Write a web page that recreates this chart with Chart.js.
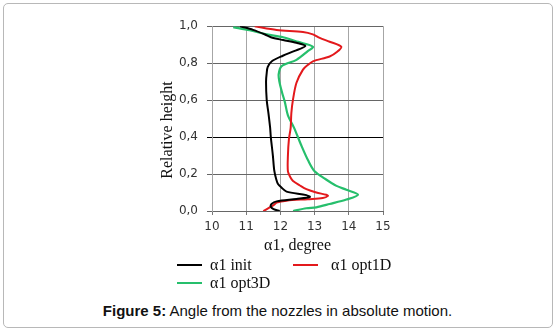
<!DOCTYPE html>
<html>
<head>
<meta charset="utf-8">
<script src="https://cdn.jsdelivr.net/npm/chart.js@4"></script>
<style>
  body { margin: 0; background: #fff; width: 555px; height: 332px; position: relative; overflow: hidden; }
  #frame { position: absolute; left: 3px; top: 3px; width: 548px; height: 323px; border: 1px solid #b8b8b8; border-radius: 5px; }
  #wrap { position: absolute; left: 150px; top: 10px; width: 250px; height: 245px; }
  .leg { position: absolute; font-family: "Liberation Serif", "Times New Roman", serif; font-size: 16px; color: #111; line-height: 16px; }
  .swatch { position: absolute; height: 2px; width: 25px; }
  #ytitle { position: absolute; left: 107px; top: 121px; width: 120px; height: 18px; line-height: 18px; text-align: center;
            transform: rotate(-90deg); font-family: "Liberation Serif", "Times New Roman", serif; font-size: 16px; color: #111; }
  #caption { position: absolute; left: 0; width: 555px; top: 302px; text-align: center; font-family: "Liberation Sans", Arial, sans-serif; font-size: 15px; color: #111; }
</style>
</head>
<body>
<div id="frame"></div>
<div id="wrap"><canvas id="graph" width="250" height="245"></canvas></div>
<div id="ytitle">Relative height</div>

<div class="swatch" style="left:177px;top:264px;background:#000;"></div>
<div class="leg" style="left:210px;top:257px;">α1 init</div>
<div class="swatch" style="left:293px;top:264px;background:#e3191c;"></div>
<div class="leg" style="left:331px;top:257px;">α1 opt1D</div>
<div class="swatch" style="left:177px;top:282px;background:#26bf6c;"></div>
<div class="leg" style="left:210px;top:275px;">α1 opt3D</div>

<div id="caption"><b>Figure 5:</b> Angle from the nozzles in absolute motion.</div>

<script>
(function () {

    // angle (x) and relative height (y), top to bottom
    const initAngle = [10.82, 11.2, 11.55, 11.72, 12.08, 12.47, 12.73, 12.4, 12.07, 11.75, 11.63, 11.6, 11.58, 11.6, 11.65, 11.7, 11.72, 11.78, 11.82, 11.88, 11.93, 12.03, 12.18, 12.76, 12.86, 12.47, 11.89, 11.74, 11.72, 11.8, 11.98];
    const initHeight = [1.0, 0.98, 0.955, 0.94, 0.925, 0.91, 0.893, 0.865, 0.84, 0.81, 0.78, 0.747, 0.70, 0.60, 0.53, 0.45, 0.40, 0.30, 0.22, 0.17, 0.146, 0.127, 0.105, 0.086, 0.076, 0.065, 0.052, 0.038, 0.024, 0.01, 0.0];

    const opt1DAngle = [11.25, 11.89, 12.66, 12.95, 13.15, 13.44, 13.78, 13.65, 13.44, 12.95, 12.8, 12.66, 12.47, 12.37, 12.32, 12.3, 12.25, 12.22, 12.22, 12.3, 12.37, 12.57, 12.76, 13.05, 13.34, 13.39, 13.24, 12.8, 12.18, 11.89, 11.79, 11.5];
    const opt1DHeight = [1.0, 0.98, 0.969, 0.956, 0.937, 0.916, 0.889, 0.86, 0.836, 0.81, 0.79, 0.765, 0.694, 0.605, 0.53, 0.45, 0.39, 0.30, 0.215, 0.18, 0.162, 0.138, 0.118, 0.10, 0.088, 0.082, 0.07, 0.064, 0.056, 0.045, 0.03, 0.0];

    const opt3DAngle = [10.62, 11.1, 11.6, 12.08, 12.52, 12.95, 12.8, 12.47, 12.03, 11.95, 11.97, 12.05, 12.13, 12.22, 12.4, 12.6, 12.82, 13.0, 13.3, 13.64, 13.93, 14.27, 13.93, 13.44, 13.05, 12.76, 12.37];
    const opt3DHeight = [0.995, 0.978, 0.956, 0.94, 0.915, 0.889, 0.865, 0.818, 0.783, 0.74, 0.70, 0.64, 0.59, 0.517, 0.45, 0.36, 0.27, 0.215, 0.175, 0.136, 0.115, 0.088, 0.062, 0.038, 0.02, 0.015, 0.0];

    function toPoints(xs, ys) {
        return xs.map((x, i) => ({ x: x, y: ys[i] }));
    }

    const tickFont = { family: '"DejaVu Sans", Verdana, sans-serif', size: 12 };
    const titleFont = { family: '"Liberation Serif", "Times New Roman", serif', size: 16 };

    const graph = document.getElementById('graph').getContext('2d');

    new Chart(graph, {
        type: 'scatter',
        data: {
            datasets: [
                { label: 'α1 init', data: toPoints(initAngle, initHeight), borderColor: '#000000', borderWidth: 2 },
                { label: 'α1 opt1D', data: toPoints(opt1DAngle, opt1DHeight), borderColor: '#e3191c', borderWidth: 2 },
                { label: 'α1 opt3D', data: toPoints(opt3DAngle, opt3DHeight), borderColor: '#26bf6c', borderWidth: 2.2 },
            ]
        },
        options: {
            responsive: false,
            animation: false,
            showLine: true,
            elements: {
                point: { radius: 0 },
                line: { tension: 0.3, fill: false },
            },
            layout: { padding: { left: 0, right: 17, top: 12, bottom: 0 } },
            plugins: {
                legend: { display: false },
                tooltip: { enabled: false },
            },
            scales: {
                x: {
                    min: 10,
                    max: 15,
                    ticks: { stepSize: 1, color: '#333', font: tickFont, padding: 5, maxRotation: 0 },
                    grid: { color: '#a6a6a6', tickLength: 4, tickColor: '#777' },
                    border: { color: '#666' },
                    title: { display: true, text: 'α1, degree', font: titleFont, color: '#111', padding: { top: 0, bottom: 0 } },
                    afterFit: function (scale) { scale.height = 44; },
                },
                y: {
                    min: 0,
                    max: 1,
                    ticks: {
                        stepSize: 0.2, color: '#333', font: tickFont, padding: 9,
                        callback: function (value) { return value.toFixed(1).replace('.', ','); }
                    },
                    grid: {
                        color: function (ctx) { return ctx.tick && Math.abs(ctx.tick.value - 0.4) < 1e-6 ? '#000' : '#666'; },
                        tickLength: 5,
                    },
                    border: { color: '#a6a6a6' },
                    afterFit: function (scale) { scale.width = 62; },
                },
            },
        },
    });

})();
</script>
</body>
</html>
